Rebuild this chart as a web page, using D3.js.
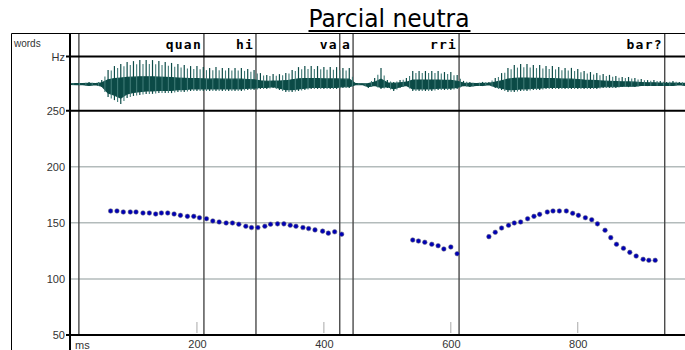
<!DOCTYPE html>
<html>
<head>
<meta charset="utf-8">
<script src="https://cdn.jsdelivr.net/npm/d3@7"></script>
<style>
  html, body { margin: 0; padding: 0; background: #fff; overflow: hidden; }
  svg { display: block; }
</style>
</head>
<body>
<svg id="chart" width="685" height="350"></svg>
<script>
// ---- data ----
const title = "Parcial neutra";

// word tier: label and the time (ms) where each interval ends
const wordLabels = ["quan", "hi", "va", "a", "rri", "bar?"];
const wordEnds = [211, 293, 425, 446, 613, 937];
// all tier boundaries (ms)
const boundaryMs = [14, 211, 293, 425, 446, 613, 937];

// axis ticks
const hzTicks = [50, 100, 150, 200, 250];
const gridHz = [100, 150, 200];
const msTicks = [200, 400, 600, 800];

// F0 track (ms, Hz)
const pitchMs = [
  64, 74, 84, 95, 104, 115, 125, 135, 144, 154, 164, 174, 185, 195, 204, 215, 225, 235, 246,
  256, 266, 277, 286, 296, 307, 316, 327, 337, 347, 356, 367, 376, 386, 398, 407, 417, 428,
  540, 549, 559, 570, 580, 589, 600, 610,
  660, 670, 680, 691, 700, 710, 721, 731, 740, 752, 761, 771, 782, 792, 801, 812, 822, 831,
  843, 852, 861, 872, 882, 892, 903, 912, 922
];
const pitchHz = [
  160.6, 160.6, 159.7, 159.7, 159.7, 158.8, 158.8, 157.9, 158.8, 158.8, 157.9, 156.7, 155.8,
  155.8, 154.6, 153.7, 151.7, 150.8, 149.9, 149.9, 148.8, 147.0, 145.8, 145.8, 147.0, 148.8,
  149.1, 149.1, 147.9, 147.0, 145.8, 144.9, 143.7, 142.6, 140.8, 142.0, 139.9,
  134.7, 133.8, 132.7, 130.9, 129.6, 126.7, 128.5, 122.5,
  137.7, 141.6, 145.4, 147.8, 149.9, 150.8, 153.7, 155.8, 157.6, 159.7, 160.6, 160.6, 160.6,
  158.5, 156.7, 154.6, 152.8, 149.1, 143.4, 136.8, 130.9, 127.3, 123.7, 120.4, 117.5, 116.6,
  116.6
];

// waveform envelope sampled every 10 ms (relative amplitude, +up / -down)
const waveMs = [
  0, 10, 20, 30, 40, 50, 60, 70, 80, 90, 100, 110, 120, 130, 140, 150, 160, 170, 180, 190,
  200, 210, 220, 230, 240, 250, 260, 270, 280, 290, 300, 310, 320, 330, 340, 350, 360, 370,
  380, 390, 400, 410, 420, 430, 440, 450, 460, 470, 480, 490, 500, 510, 520, 530, 540, 550,
  560, 570, 580, 590, 600, 610, 620, 630, 640, 650, 660, 670, 680, 690, 700, 710, 720, 730,
  740, 750, 760, 770, 780, 790, 800, 810, 820, 830, 840, 850, 860, 870, 880, 890, 900, 910,
  920, 930, 940, 950, 960, 970
];
const waveTop = [
  0.02, 0.04, 0.04, 0.08, 0.04, 0.15, 0.54, 0.69, 0.77, 0.85, 0.88, 0.92, 0.92, 0.92, 0.88,
  0.85, 0.81, 0.77, 0.73, 0.69, 0.69, 0.65, 0.62, 0.65, 0.62, 0.62, 0.62, 0.62, 0.58, 0.54,
  0.42, 0.35, 0.38, 0.38, 0.42, 0.54, 0.65, 0.69, 0.69, 0.69, 0.65, 0.65, 0.65, 0.62, 0.62,
  0.04, 0.02, 0.04, 0.23, 0.62, 0.15, 0.08, 0.15, 0.23, 0.50, 0.50, 0.50, 0.50, 0.50, 0.46,
  0.46, 0.35, 0.12, 0.08, 0.04, 0.08, 0.08, 0.23, 0.42, 0.62, 0.73, 0.77, 0.77, 0.73, 0.73,
  0.69, 0.69, 0.65, 0.62, 0.62, 0.58, 0.50, 0.46, 0.42, 0.38, 0.35, 0.31, 0.27, 0.27, 0.23,
  0.19, 0.15, 0.15, 0.12, 0.08, 0.12, 0.08, 0.08
];
const waveBottom = [
  -0.02, -0.04, -0.04, -0.08, -0.04, -0.12, -0.50, -0.62, -0.77, -0.54, -0.46, -0.42, -0.38,
  -0.38, -0.35, -0.35, -0.35, -0.31, -0.31, -0.27, -0.27, -0.27, -0.27, -0.27, -0.27, -0.27,
  -0.27, -0.27, -0.23, -0.23, -0.19, -0.19, -0.15, -0.23, -0.31, -0.31, -0.27, -0.23, -0.19,
  -0.19, -0.19, -0.19, -0.19, -0.15, -0.15, -0.04, -0.02, -0.15, -0.08, -0.19, -0.15, -0.27,
  -0.15, -0.08, -0.27, -0.27, -0.27, -0.27, -0.23, -0.23, -0.23, -0.19, -0.08, -0.12, -0.08,
  -0.08, -0.04, -0.15, -0.23, -0.31, -0.31, -0.27, -0.27, -0.23, -0.23, -0.19, -0.19, -0.19,
  -0.19, -0.19, -0.19, -0.19, -0.19, -0.19, -0.15, -0.15, -0.15, -0.12, -0.12, -0.12, -0.08,
  -0.08, -0.08, -0.08, -0.06, -0.08, -0.04, -0.08
];

// ---- layout ----
const W = 685, H = 350;
const svg = d3.select("#chart");

const x = d3.scaleLinear().domain([0, 1000]).range([70, 704.7]);
const y = d3.scaleLinear().domain([50, 250]).range([335, 110.7]);
const wy = d3.scaleLinear().domain([-1, 1]).range([110, 58]);

const frameTop = 33.5, tierBottom = 56.5, axisLeft = 70, outerLeft = 11.5;
const labelFont = "'Liberation Sans', Arial, sans-serif";

svg.append("rect").attr("width", W).attr("height", H).attr("fill", "#fff");

// title
svg.append("text")
  .attr("x", 389).attr("y", 27)
  .attr("text-anchor", "middle")
  .attr("font-family", "'DejaVu Sans', sans-serif")
  .attr("font-stretch", "condensed")
  .attr("font-size", 24)
  .attr("fill", "#000")
  .attr("textLength", 161)
  .attr("lengthAdjust", "spacingAndGlyphs")
  .text(title);
svg.append("line")
  .attr("x1", 308.5).attr("x2", 470.5).attr("y1", 31).attr("y2", 31)
  .attr("stroke", "#000").attr("stroke-width", 2);

// horizontal grid lines in the pitch panel
svg.append("g").selectAll("line").data(gridHz).join("line")
  .attr("x1", axisLeft).attr("x2", W)
  .attr("y1", d => y(d)).attr("y2", d => y(d))
  .attr("stroke", "#b3bbbb").attr("stroke-width", 1.5);

// short time markers above the bottom axis
svg.append("g").selectAll("line").data(msTicks).join("line")
  .attr("x1", d => x(d)).attr("x2", d => x(d))
  .attr("y1", 322).attr("y2", 333)
  .attr("stroke", "#a8a8a8").attr("stroke-width", 1);

// tier boundaries
svg.append("g").selectAll("line").data(boundaryMs).join("line")
  .attr("x1", d => x(d)).attr("x2", d => x(d))
  .attr("y1", frameTop).attr("y2", 335)
  .attr("stroke", "#4a4a4a").attr("stroke-width", 1.4);

// waveform: dense core band plus a spike per sample and one between samples
const wave = waveMs.map((t, i) => ({ t, top: waveTop[i], bot: waveBottom[i] }));
const waveColor = "#0c4b47";
const core = d3.area()
  .x(d => x(d.t))
  .y0(d => wy(d.bot * 0.7))
  .y1(d => wy(d.top * 0.3));
svg.append("path").datum(wave)
  .attr("d", core)
  .attr("fill", waveColor)
  .attr("stroke", waveColor).attr("stroke-width", 1.2);
svg.append("g").selectAll("line").data(wave).join("line")
  .attr("x1", d => x(d.t)).attr("x2", d => x(d.t))
  .attr("y1", d => wy(d.top)).attr("y2", d => wy(d.bot))
  .attr("stroke", waveColor).attr("stroke-width", 1.2);
svg.append("g").selectAll("line").data(wave.slice(0, -1)).join("line")
  .attr("x1", d => x(d.t + 5)).attr("x2", d => x(d.t + 5))
  .attr("y1", (d, i) => wy((d.top + wave[i + 1].top) * 0.42))
  .attr("y2", (d, i) => wy((d.bot + wave[i + 1].bot) * 0.5))
  .attr("stroke", "#3f7a76").attr("stroke-width", 1.1);

// frame and panel separators
const frame = svg.append("g").attr("stroke", "#000");
frame.append("line").attr("x1", outerLeft).attr("x2", W).attr("y1", frameTop).attr("y2", frameTop).attr("stroke-width", 1);
frame.append("line").attr("x1", outerLeft).attr("x2", outerLeft).attr("y1", frameTop).attr("y2", H).attr("stroke-width", 1);
frame.append("line").attr("x1", axisLeft).attr("x2", axisLeft).attr("y1", frameTop).attr("y2", H).attr("stroke-width", 2);
frame.append("line").attr("x1", 66).attr("x2", W).attr("y1", tierBottom).attr("y2", tierBottom).attr("stroke-width", 2);
frame.append("line").attr("x1", 66).attr("x2", W).attr("y1", y(250)).attr("y2", y(250)).attr("stroke-width", 2);
frame.append("line").attr("x1", 66).attr("x2", W).attr("y1", y(50)).attr("y2", y(50)).attr("stroke-width", 2);

// word tier labels, right-aligned to the end of each interval
svg.append("g").selectAll("text").data(wordLabels).join("text")
  .attr("x", (d, i) => x(wordEnds[i]) - 2)
  .attr("y", 49)
  .attr("text-anchor", "end")
  .attr("font-family", "'DejaVu Sans Mono', monospace")
  .attr("font-weight", "bold")
  .attr("font-size", 13)
  .attr("letter-spacing", 1.2)
  .attr("fill", "#000")
  .text(d => d);

// left axis (Hz)
const yAxis = d3.axisLeft(y).tickValues(hzTicks).tickSize(0).tickPadding(5).tickFormat(d3.format("d"));
const gy = svg.append("g").attr("transform", `translate(${axisLeft},0)`).call(yAxis);
gy.select(".domain").remove();
gy.selectAll("text").attr("font-family", labelFont).attr("font-size", 11).attr("fill", "#333");

// bottom axis (ms)
const xAxis = d3.axisBottom(x).tickValues(msTicks).tickSize(0).tickPadding(5).tickFormat(d3.format("d"));
const gx = svg.append("g").attr("transform", `translate(0,${y(50)})`).call(xAxis);
gx.select(".domain").remove();
gx.selectAll("text").attr("font-family", labelFont).attr("font-size", 11).attr("fill", "#333");

// panel captions
const caption = svg.append("g").attr("font-family", labelFont).attr("fill", "#333");
caption.append("text").attr("x", 14).attr("y", 47).attr("font-size", 10).text("words");
caption.append("text").attr("x", 65).attr("y", 61).attr("font-size", 11).attr("text-anchor", "end").text("Hz");
caption.append("text").attr("x", 75).attr("y", 349).attr("font-size", 11).text("ms");

// F0 points
svg.append("g").selectAll("circle").data(pitchMs).join("circle")
  .attr("cx", d => x(d))
  .attr("cy", (d, i) => y(pitchHz[i]))
  .attr("r", 2.3)
  .attr("fill", "#0000b4")
  .attr("stroke", "#6c6c80").attr("stroke-opacity", 0.6).attr("stroke-width", 0.9);
</script>
</body>
</html>
